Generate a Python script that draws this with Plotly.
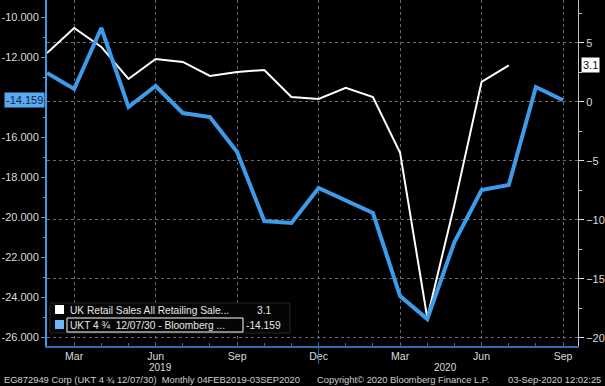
import plotly.graph_objects as go

# ---- data ----
months = ["Feb 2019", "Mar 2019", "Apr 2019", "May 2019", "Jun 2019", "Jul 2019",
          "Aug 2019", "Sep 2019", "Oct 2019", "Nov 2019", "Dec 2019", "Jan 2020",
          "Feb 2020", "Mar 2020", "Apr 2020", "May 2020", "Jun 2020", "Jul 2020",
          "Aug 2020", "Sep 2020"]
retail_sales = [4.15, 6.27, 4.66, 1.95, 3.64, 3.39, 2.2, 2.54, 2.71, 0.42, 0.25,
                1.19, 0.42, -4.3, -18.3, -8.7, 1.7, 3.1]
ukt_yield = [-12.8, -13.6, -10.55, -14.5, -13.45, -14.8, -15.0, -16.75, -20.2,
             -20.3, -18.55, -19.2, -19.8, -23.95, -25.1, -21.25, -18.65, -18.4,
             -13.5, -14.159]
tick_months = ["Mar", "Jun", "Sep", "Dec"]
years = ["2019", "2020"]
left_tickvals = [-10, -12, -14, -16, -18, -20, -22, -24, -26]
left_ticktext = ["-10.000", "-12.000", "", "-16.000", "-18.000", "-20.000",
                 "-22.000", "-24.000", "-26.000"]

name_retail = "UK Retail Sales All Retailing Sale..."
name_ukt = "UKT 4 \u00be  12/07/30 - Bloomberg ..."
last_retail = "3.1"
last_ukt = "-14.159"
footer_left = "EG872949 Corp (UKT 4 \u00be 12/07/30)  Monthly 04FEB2019-03SEP2020"
footer_mid = "Copyright\u00a9 2020 Bloomberg Finance L.P."
footer_right = "03-Sep-2020 12:02:25"

# ---- layout helpers ----
W, H = 605, 386
L, R, T, B = 47, 27, 0, 40
PW, PH = W - L - R, H - T - B


def px_x(p):
    return (p - L) / PW


def px_y(p):
    return (H - B - p) / PH


x_idx = list(range(len(months)))
tickvals = [i for i, m in enumerate(months) if m.split()[0] in tick_months]
ticktext = [months[i].split()[0] for i in tickvals]

BLUE = "#3d9be9"
AXBLUE = "#2f6eae"
FONT = "Liberation Sans"
TXT = "#dcdcdc"

fig = go.Figure()
fig.add_trace(go.Scatter(x=x_idx[:len(retail_sales)], y=retail_sales, mode="lines",
                         line=dict(color="#ffffff", width=2), yaxis="y",
                         showlegend=False, hoverinfo="skip"))
fig.add_trace(go.Scatter(x=x_idx, y=ukt_yield, mode="lines",
                         line=dict(color=BLUE, width=4), yaxis="y2",
                         showlegend=False, hoverinfo="skip"))

fig.update_layout(
    width=W, height=H,
    margin=dict(l=L, r=R, t=T, b=B),
    paper_bgcolor="#000000", plot_bgcolor="#000000",
    font=dict(family=FONT, color=TXT, size=10),
    xaxis=dict(range=[0, 19.55], tickmode="array", tickvals=tickvals, ticktext=ticktext,
               showgrid=True, gridcolor="#6a6a6a", griddash="dot", gridwidth=1,
               showline=True, linecolor=AXBLUE, linewidth=2,
               ticks="inside", ticklen=4, tickcolor=AXBLUE,
               minor=dict(tickmode="linear", tick0=0, dtick=1, ticks="inside",
                          ticklen=3, tickcolor=AXBLUE, showgrid=False),
               ticklabelstandoff=-1,
               tickfont=dict(size=10.5, color=TXT), zeroline=False, fixedrange=True),
    yaxis=dict(side="right", range=[-20.68, 8.64], dtick=5, tick0=0,
               showgrid=True, gridcolor="#6a6a6a", griddash="dot", gridwidth=1,
               showline=True, linecolor="#c8c8c8", linewidth=1,
               ticks="outside", ticklen=5, tickcolor="#e0e0e0",
               minor=dict(dtick=2.5, ticks="outside", ticklen=3, tickcolor="#c8c8c8",
                          showgrid=False),
               tickfont=dict(size=11, color=TXT), zeroline=False),
    yaxis2=dict(side="left", overlaying="y", range=[-26.45, -9.15],
                tickmode="array", tickvals=left_tickvals, ticktext=left_ticktext,
                showgrid=False,
                showline=True, linecolor=BLUE, linewidth=2,
                ticks="outside", ticklen=4, tickcolor=BLUE,
                minor=dict(tickmode="linear", tick0=0, dtick=1, ticks="outside",
                           ticklen=2, tickcolor=BLUE),
                tickfont=dict(size=11, color=TXT), zeroline=False),
)

shapes = []
# legend box
shapes.append(dict(type="rect", xref="paper", yref="paper",
                   x0=px_x(50), x1=px_x(290), y0=px_y(333), y1=px_y(303),
                   fillcolor="#050505", line=dict(color="#262626", width=1), layer="above"))
shapes.append(dict(type="rect", xref="paper", yref="paper",
                   x0=px_x(55), x1=px_x(64), y0=px_y(314), y1=px_y(305),
                   fillcolor="#ffffff", line=dict(width=0), layer="above"))
shapes.append(dict(type="rect", xref="paper", yref="paper",
                   x0=px_x(55), x1=px_x(64), y0=px_y(329), y1=px_y(320),
                   fillcolor="#6ab6f7", line=dict(width=0), layer="above"))
shapes.append(dict(type="rect", xref="paper", yref="paper",
                   x0=px_x(67), x1=px_x(243), y0=px_y(332), y1=px_y(318),
                   fillcolor="rgba(0,0,0,0)", line=dict(color="#ffffff", width=1), layer="above"))
# year separator
shapes.append(dict(type="line", xref="x", yref="paper", x0=10, x1=10,
                   y0=px_y(346), y1=px_y(364), line=dict(color=AXBLUE, width=1)))
fig.update_layout(shapes=shapes)

ann = []
ann.append(dict(xref="paper", yref="paper", x=px_x(68), y=px_y(310), xanchor="left",
                yanchor="middle", text=name_retail, showarrow=False,
                font=dict(size=10.2, color="#e8e8e8")))
ann.append(dict(xref="paper", yref="paper", x=px_x(68), y=px_y(325), xanchor="left",
                yanchor="middle", text=name_ukt, showarrow=False,
                font=dict(size=10.2, color="#e8e8e8")))
ann.append(dict(xref="paper", yref="paper", x=px_x(273), y=px_y(310), xanchor="right",
                yanchor="middle", text=last_retail, showarrow=False,
                font=dict(size=10.2, color="#e8e8e8")))
ann.append(dict(xref="paper", yref="paper", x=px_x(283), y=px_y(325), xanchor="right",
                yanchor="middle", text=last_ukt, showarrow=False,
                font=dict(size=10.2, color="#e8e8e8")))
# last value tags
ann.append(dict(xref="paper", yref="y2", x=0, y=ukt_yield[-1], xanchor="right",
                yanchor="middle", xshift=-2, text=last_ukt, showarrow=False,
                bgcolor="#5aaaf0", borderpad=1, font=dict(size=11, color="#0b2548")))
ann.append(dict(xref="paper", yref="y", x=1, y=retail_sales[-1], xanchor="left",
                yanchor="middle", xshift=3, text=last_retail, showarrow=False,
                bgcolor="#ffffff", borderpad=1, font=dict(size=11, color="#111111")))
# years
ann.append(dict(xref="paper", yref="paper", x=px_x(160), y=px_y(368), xanchor="center",
                yanchor="middle", text=years[0], showarrow=False,
                font=dict(size=10, color=TXT)))
ann.append(dict(xref="paper", yref="paper", x=px_x(445), y=px_y(368), xanchor="center",
                yanchor="middle", text=years[1], showarrow=False,
                font=dict(size=10, color=TXT)))
# footer
ann.append(dict(xref="paper", yref="paper", x=px_x(2), y=px_y(379.5), xanchor="left",
                yanchor="middle", text=footer_left, showarrow=False,
                font=dict(size=9.4, color="#cfcfcf")))
ann.append(dict(xref="paper", yref="paper", x=px_x(315), y=px_y(379.5), xanchor="left",
                yanchor="middle", text=footer_mid, showarrow=False,
                font=dict(size=9.4, color="#cfcfcf")))
ann.append(dict(xref="paper", yref="paper", x=px_x(603), y=px_y(379.5), xanchor="right",
                yanchor="middle", text=footer_right, showarrow=False,
                font=dict(size=9.4, color="#cfcfcf")))
fig.update_layout(annotations=ann)

fig.write_html("out.html", config={"displayModeBar": False},
               post_script="document.body.style.margin='0';document.body.style.padding='0';"
                           "document.body.style.background='#000';")
